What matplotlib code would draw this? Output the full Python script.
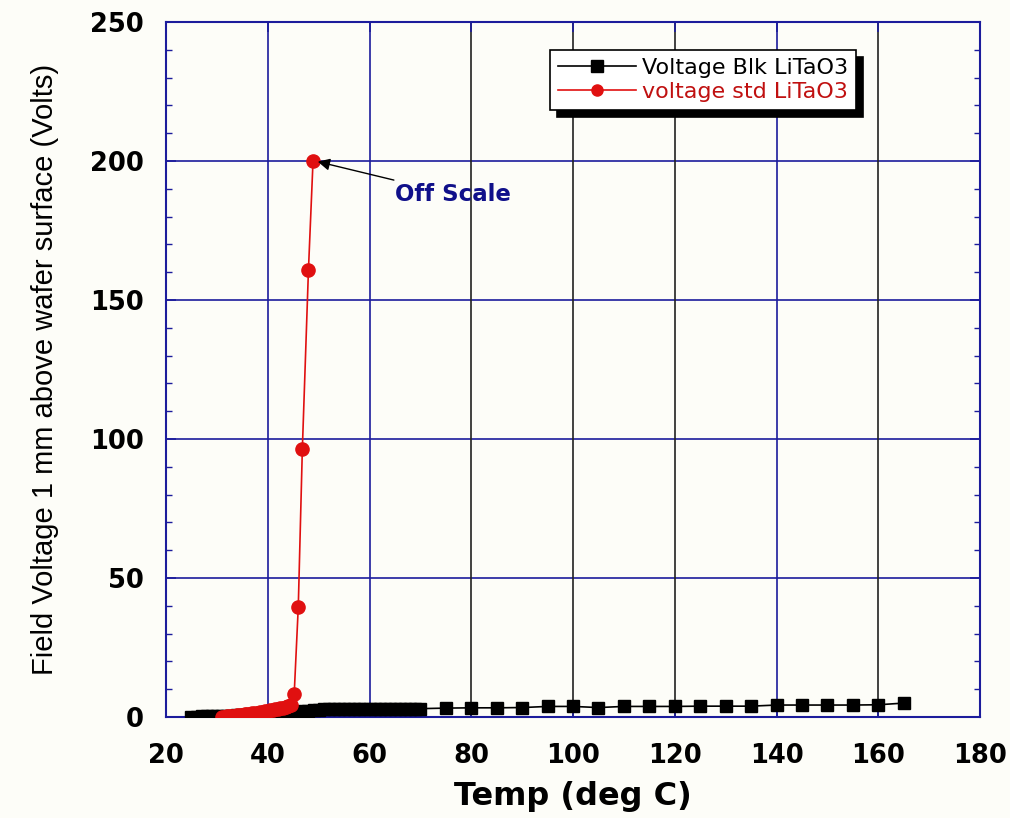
import matplotlib.pyplot as plt
from matplotlib import ticker

# black series: Voltage Blk LiTaO3
blk_temp = [25, 26, 27, 28, 29, 30, 31, 32, 33, 34, 35, 36, 37, 38, 39, 40,
            41, 42, 43, 44, 45, 46, 47, 48, 49, 50, 51, 52, 53, 54, 55, 56,
            57, 58, 59, 60, 61, 62, 63, 64, 65, 66, 67, 68, 69,
            70, 75, 80, 85, 90, 95, 100, 105, 110, 115, 120, 125, 130, 135,
            140, 145, 150, 155, 160, 165]
blk_volt = [0.0, 0.1, 0.2, 0.3, 0.3, 0.4, 0.4, 0.5, 0.5, 0.6, 0.6, 0.7, 0.7,
            0.8, 0.8, 0.9, 1.0, 1.1, 1.3, 1.5, 1.7, 1.9, 2.1, 2.3, 2.5, 2.6,
            2.7, 2.8, 2.9, 3.0, 3.0, 3.0, 3.0, 3.0, 3.0, 3.0, 3.0, 3.0, 3.0,
            3.0, 3.0, 3.0, 3.0, 3.0, 3.0,
            3.0, 3.2, 3.3, 3.3, 3.4, 3.8, 3.8, 3.4, 3.8, 3.8, 3.8, 3.9, 3.9,
            3.9, 4.3, 4.3, 4.3, 4.3, 4.4, 5.0]

# red series: voltage std LiTaO3
std_temp = [31, 31.5, 32, 32.5, 33, 33.5, 34, 34.5, 35, 35.5, 36, 36.5, 37,
            37.5, 38, 38.5, 39, 39.5, 40, 40.5, 41, 41.5, 42, 42.5, 43, 43.5,
            44, 44.5, 45.2, 46.0, 46.8, 48.0, 48.9]
std_volt = [0.0, 0.1, 0.2, 0.3, 0.4, 0.5, 0.6, 0.7, 0.8, 0.9, 1.0, 1.1, 1.3,
            1.4, 1.6, 1.7, 1.9, 2.0, 2.2, 2.4, 2.6, 2.8, 3.0, 3.2, 3.4, 3.6,
            3.9, 4.2, 8.3, 39.6, 96.4, 160.8, 200.0]

x_ticks = [20, 40, 60, 80, 100, 120, 140, 160, 180]
y_ticks = [0, 50, 100, 150, 200, 250]

NAVY = '#1c1c9c'
grid_colors = {40: NAVY, 60: NAVY, 80: '#222222', 100: '#222222',
               120: '#222222', 140: NAVY, 160: '#222222'}

plt.rcParams['font.family'] = ['Liberation Sans', 'DejaVu Sans']

fig = plt.figure(figsize=(10.1, 8.18), dpi=100)
fig.patch.set_facecolor('#fdfdf8')
ax = fig.add_axes([166 / 1010, 1 - 717 / 818, 814 / 1010, 695 / 818])
ax.set_facecolor('#fdfdf8')

# grid lines
for yv in y_ticks[1:-1]:
    ax.axhline(yv, color=NAVY, lw=1.2, zorder=1)
for xv, col in grid_colors.items():
    ax.axvline(xv, color=col, lw=1.2, zorder=1)

ax.plot(blk_temp, blk_volt, color='black', lw=1.2, marker='s', ms=9,
        mec='black', mfc='black', label='Voltage Blk LiTaO3', zorder=3)
ax.plot(std_temp, std_volt, color='#e01010', lw=1.2, marker='o', ms=9.5,
        mec='#e01010', mfc='#e01010', label='voltage std LiTaO3', zorder=4)

ax.annotate('Off Scale', xy=(49.3, 200), xytext=(65, 188),
            fontsize=16.5, fontweight='bold', color='#10108a',
            family='DejaVu Sans', va='center', ha='left',
            arrowprops=dict(arrowstyle='-|>', color='black', lw=1,
                            mutation_scale=18, shrinkA=0), zorder=5)

ax.set_xlim(20, 180)
ax.set_ylim(0, 250)
ax.set_xticks(x_ticks)
ax.set_yticks(y_ticks)
ax.yaxis.set_minor_locator(ticker.MultipleLocator(10))
ax.tick_params(which='both', direction='in', top=True, right=True,
               color=NAVY)
ax.tick_params(which='major', length=7, width=1.2, labelsize=18.5)
ax.tick_params(axis='x', pad=19)
ax.tick_params(axis='y', pad=16)
ax.tick_params(which='minor', length=4, width=1)
for lab in ax.get_xticklabels() + ax.get_yticklabels():
    lab.set_fontweight('bold')
    lab.set_family('DejaVu Sans')

for sp in ax.spines.values():
    sp.set_color(NAVY)
    sp.set_linewidth(1.5)

ax.set_xlabel('Temp (deg C)', fontsize=23, fontweight='bold',
              family='DejaVu Sans', labelpad=8)
ax.set_ylabel('Field Voltage 1 mm above wafer surface (Volts)', fontsize=21,
              labelpad=22)

leg = ax.legend(loc='upper left', bbox_to_anchor=(0.472, 0.96),
                borderaxespad=0, prop={'family': 'DejaVu Sans', 'size': 16},
                frameon=True, fancybox=False,
                shadow={'color': 'black', 'alpha': 1, 'ox': 5, 'oy': -5},
                borderpad=0.35, handlelength=3.5, handletextpad=0.3,
                labelspacing=0.2)
leg.get_frame().set_edgecolor('black')
leg.get_frame().set_linewidth(1.2)
leg.get_frame().set_facecolor('white')
leg.get_texts()[1].set_color('#c01010')
for h in leg.legend_handles:
    h.set_markersize(8)

fig.savefig('out.png', dpi=100, facecolor=fig.get_facecolor())
